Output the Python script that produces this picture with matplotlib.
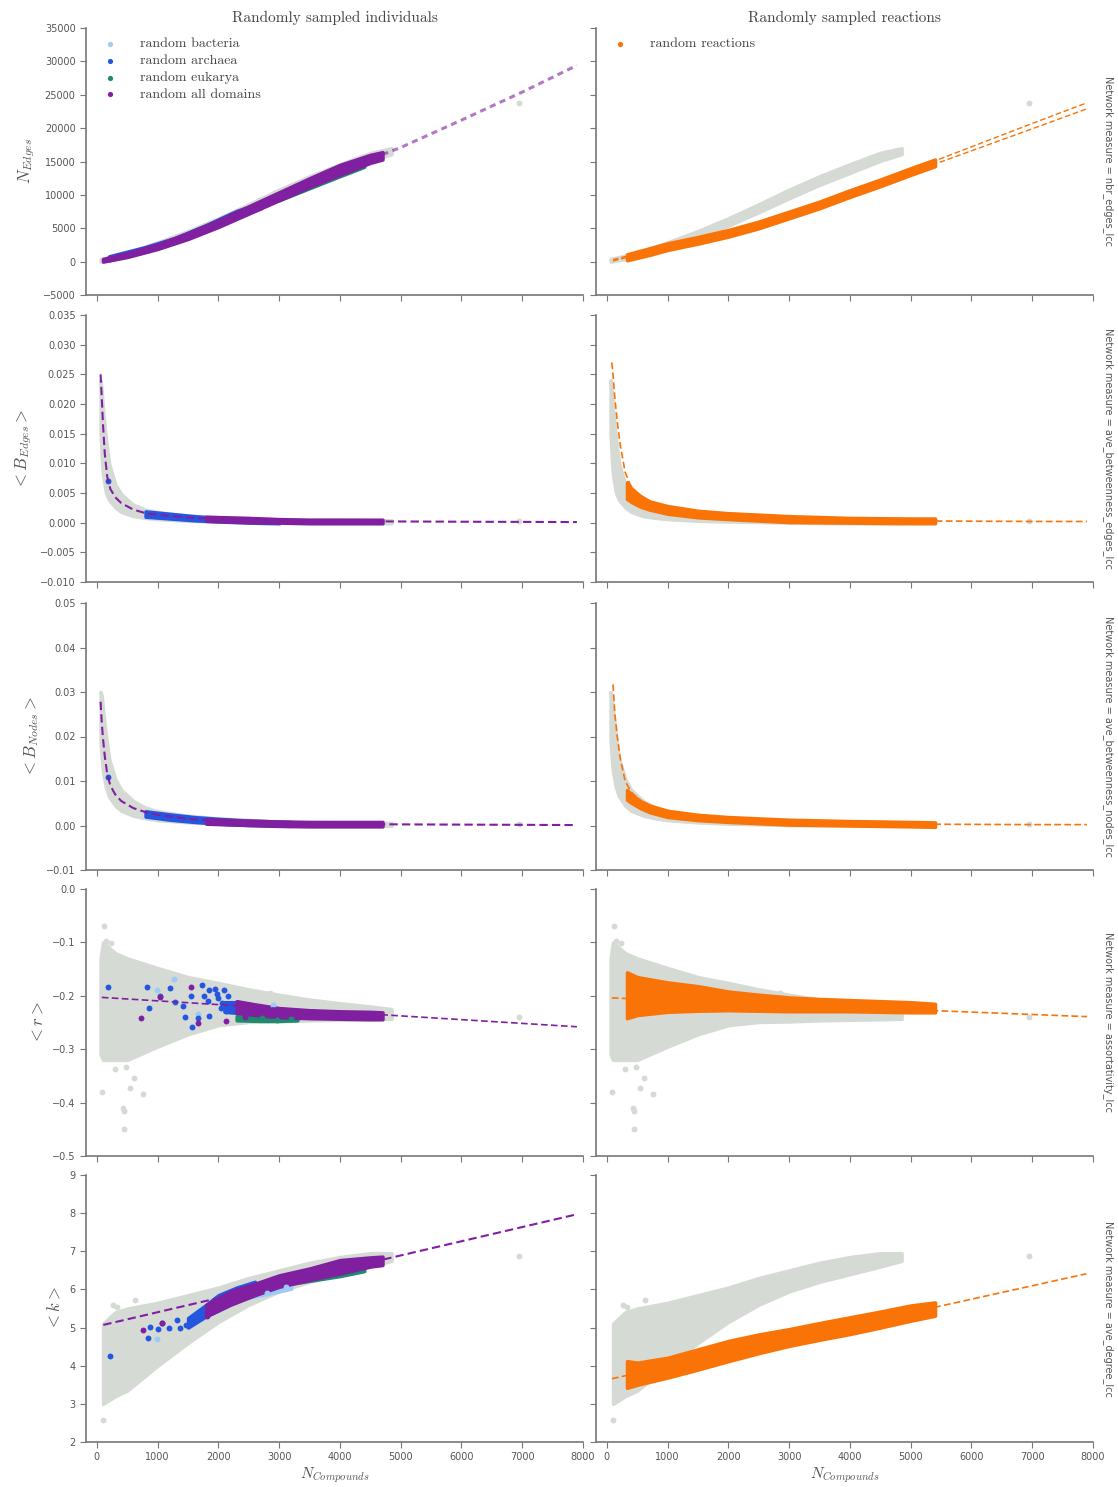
import matplotlib.pyplot as plt
from matplotlib.ticker import MultipleLocator

plt.rcParams['mathtext.fontset'] = 'cm'

# colours
grey = '#d5dad5'
c_bact = '#9ecbf5'
c_arch = '#2456e0'
c_euk = '#1e8a6e'
c_all = '#801f9f'
c_rxn = '#f97306'

# ---------- row 1 : number of edges ----------
grey_edges_x = [60, 500, 1000, 1500, 2000, 2500, 3000, 3500, 4000, 4500, 4850]
grey_edges_lo = [0, 700, 2000, 3500, 5400, 7400, 9500, 11500, 13300, 15100, 16100]
grey_edges_hi = [400, 1300, 2900, 4600, 6500, 8600, 10800, 12800, 14600, 16300, 17000]

all_edges_x = [100, 500, 1000, 1500, 2000, 2500, 3000, 3500, 4000, 4500, 4700]
all_edges_lo = [0, 700, 1900, 3400, 5200, 7200, 9200, 11200, 13000, 14800, 15300]
all_edges_hi = [400, 1300, 2600, 4300, 6200, 8300, 10400, 12500, 14500, 16000, 16400]
arch_edges_x = [200, 800, 1300, 1800, 2300, 2700]
arch_edges_lo = [200, 1500, 2900, 4700, 6700, 8000]
arch_edges_hi = [800, 2200, 3600, 5500, 7600, 8800]
euk_edges_x = [3000, 3500, 4000, 4400]
euk_edges_lo = [9200, 11000, 12800, 14200]
euk_edges_hi = [9700, 11600, 13400, 14700]

fit_all_edges_x = [100, 1000, 2000, 3000, 4000, 5000, 6000, 7000, 7900]
fit_all_edges = [100, 2200, 5700, 9600, 13600, 17100, 21200, 25400, 29400]

rxn_edges_x = [330, 700, 1000, 1500, 2000, 2500, 3000, 3500, 4000, 4500, 5000, 5400]
rxn_edges_lo = [200, 1000, 1750, 2700, 3750, 5000, 6500, 8000, 9700, 11300, 13000, 14300]
rxn_edges_hi = [1100, 2000, 2750, 3700, 4750, 6000, 7500, 9000, 10700, 12300, 14000, 15300]
fit_rxn_edges_x = [100, 1000, 2000, 3000, 4000, 5000, 6000, 7000, 7900]
fit_rxn_edges_lo = [100, 2150, 4200, 6900, 10100, 13300, 16600, 19900, 22900]
fit_rxn_edges_hi = [300, 2350, 4400, 7100, 10300, 13700, 17200, 20700, 23800]

# ---------- row 2 : edge betweenness ----------
grey_bedg_x = [60, 80, 100, 150, 200, 300, 400, 600, 800, 1000, 1500, 2000, 3000, 4000, 4850]
grey_bedg_lo = [0.015, 0.011, 0.008, 0.005, 0.0038, 0.0026, 0.0018, 0.0011, 0.0008, 0.0006,
                0.0003, 0.0002, 0.0, -0.0001, -0.0001]
grey_bedg_hi = [0.024, 0.022, 0.019, 0.014, 0.010, 0.0065, 0.0048, 0.0030, 0.0022, 0.0018,
                0.0012, 0.0009, 0.0006, 0.0005, 0.0004]

fit_all_bedg_x = [60, 80, 100, 130, 170, 220, 300, 400, 600, 800, 1000, 1500, 2000, 3000,
                  4000, 5000, 6000, 7000, 7900]
fit_all_bedg = [0.025, 0.021, 0.0165, 0.0115, 0.0077, 0.0057, 0.0043, 0.0033, 0.0022, 0.0016,
                0.0013, 0.0009, 0.0006, 0.00035, 0.00025, 0.0002, 0.00016, 0.00013, 0.0001]
all_bedg_x = [1800, 2500, 3000, 3500, 4000, 4700]
all_bedg_lo = [0.0003, 0.0001, 0.0, -0.0001, -0.0001, -0.0001]
all_bedg_hi = [0.0010, 0.0008, 0.0006, 0.0005, 0.0005, 0.0005]
arch_bedg_x = [800, 1200, 1600, 2000, 2500, 3000]
arch_bedg_lo = [0.0010, 0.0007, 0.0004, 0.0002, 0.0000, -0.0001]
arch_bedg_hi = [0.0019, 0.0015, 0.0011, 0.0008, 0.0006, 0.0004]

fit_rxn_bedg_x = [80, 100, 130, 170, 220, 300, 400, 600, 800, 1000, 1500, 2000, 3000, 4000,
                  5000, 6000, 7000, 7900]
fit_rxn_bedg = [0.027, 0.025, 0.021, 0.017, 0.013, 0.0085, 0.0060, 0.0036, 0.0026, 0.0021,
                0.0014, 0.0011, 0.0006, 0.0004, 0.0003, 0.00025, 0.0002, 0.0002]
rxn_bedg_x = [330, 400, 550, 700, 1000, 1500, 2000, 3000, 4000, 5000, 5400]
rxn_bedg_lo = [0.0040, 0.0035, 0.0027, 0.0022, 0.0015, 0.0009, 0.0006, 0.0001, 0.0, -0.0001, -0.0001]
rxn_bedg_hi = [0.0068, 0.0058, 0.0045, 0.0036, 0.0028, 0.0020, 0.0016, 0.0011, 0.0008, 0.0007, 0.0007]

# ---------- row 3 : node betweenness ----------
grey_bnod_x = [60, 80, 100, 150, 200, 300, 400, 600, 800, 1000, 1500, 2000, 3000, 4000, 4850]
grey_bnod_lo = [0.019, 0.015, 0.012, 0.0085, 0.0065, 0.0045, 0.0033, 0.0022, 0.0016, 0.0012,
                0.0007, 0.0004, 0.0001, 0.0, -0.0001]
grey_bnod_hi = [0.030, 0.029, 0.026, 0.020, 0.015, 0.0105, 0.0080, 0.0055, 0.0040, 0.0032,
                0.0022, 0.0016, 0.0009, 0.0007, 0.0006]

fit_all_bnod_x = [60, 80, 100, 130, 170, 220, 300, 400, 600, 800, 1000, 1500, 2000, 3000,
                  4000, 5000, 6000, 7000, 7900]
fit_all_bnod = [0.0278, 0.023, 0.0195, 0.0155, 0.0115, 0.0090, 0.0070, 0.0055, 0.0039, 0.0030,
                0.0024, 0.0015, 0.0010, 0.00055, 0.00035, 0.00025, 0.0002, 0.00015, 0.0001]
all_bnod_x = [1800, 2500, 3000, 3500, 4000, 4700]
all_bnod_lo = [0.0004, 0.0001, -0.0001, -0.0002, -0.0002, -0.0002]
all_bnod_hi = [0.0014, 0.0011, 0.0009, 0.0008, 0.0008, 0.0008]
arch_bnod_x = [800, 1200, 1600, 2000, 2500, 3200]
arch_bnod_lo = [0.0020, 0.0013, 0.0008, 0.0004, 0.0001, -0.0001]
arch_bnod_hi = [0.0032, 0.0025, 0.0019, 0.0015, 0.0011, 0.0008]

fit_rxn_bnod_x = [100, 130, 170, 220, 300, 400, 600, 800, 1000, 1500, 2000, 3000, 4000, 5000,
                  6000, 7000, 7900]
fit_rxn_bnod = [0.0317, 0.025, 0.020, 0.015, 0.0100, 0.0075, 0.0050, 0.0036, 0.0028, 0.0019,
                0.0014, 0.0008, 0.0005, 0.0003, 0.00025, 0.0002, 0.0002]
rxn_bnod_x = [330, 400, 550, 700, 1000, 1500, 2000, 3000, 4000, 5000, 5400]
rxn_bnod_lo = [0.0058, 0.0051, 0.0039, 0.0030, 0.0019, 0.0012, 0.0008, 0.0002, 0.0, -0.0002, -0.0003]
rxn_bnod_hi = [0.0080, 0.0070, 0.0055, 0.0045, 0.0033, 0.0024, 0.0019, 0.0013, 0.0010, 0.0008, 0.0007]

# ---------- row 4 : assortativity ----------
grey_r_x = [60, 100, 300, 500, 1000, 1500, 2000, 2500, 3000, 3500, 4000, 4500, 4850]
grey_r_lo = [-0.31, -0.32, -0.32, -0.32, -0.295, -0.272, -0.255, -0.249, -0.248, -0.246,
             -0.245, -0.244, -0.243]
grey_r_hi = [-0.13, -0.10, -0.12, -0.13, -0.148, -0.165, -0.176, -0.188, -0.198, -0.207,
             -0.214, -0.22, -0.225]
grey_r_pts_x = [112, 150, 230, 80, 298, 422, 453, 484, 547, 610, 764, 443, 2845, 6944]
grey_r_pts_y = [-0.069, -0.097, -0.102, -0.38, -0.337, -0.41, -0.416, -0.334, -0.372, -0.353,
                -0.384, -0.45, -0.194, -0.24]

fit_all_r_x = [80, 7900]
fit_all_r = [-0.203, -0.258]
all_r_x = [2300, 2600, 3000, 3500, 4000, 4500, 4700]
all_r_lo = [-0.232, -0.236, -0.240, -0.242, -0.243, -0.244, -0.244]
all_r_hi = [-0.210, -0.216, -0.223, -0.227, -0.229, -0.230, -0.231]
arch_r_x = [2100, 2300, 2500, 2700]
arch_r_lo = [-0.230, -0.232, -0.232, -0.230]
arch_r_hi = [-0.212, -0.212, -0.215, -0.220]
euk_r_x = [2300, 2700, 3000, 3300]
euk_r_lo = [-0.246, -0.247, -0.247, -0.246]
euk_r_hi = [-0.238, -0.239, -0.240, -0.240]
arch_r_pts_x = [186, 826, 857, 1043, 1199, 1292, 1416, 1447, 1571, 1540, 1665, 1727, 1758,
                1851, 1944, 1975, 2099, 2161, 1820, 2037, 2130, 1851, 1990, 2060]
arch_r_pts_y = [-0.184, -0.183, -0.223, -0.200, -0.186, -0.2125, -0.219, -0.239, -0.259, -0.200,
                -0.241, -0.179, -0.200, -0.190, -0.187, -0.197, -0.190, -0.200, -0.209, -0.222,
                -0.228, -0.237, -0.205, -0.214]
bact_r_pts_x = [1261, 981, 1665, 2900]
bact_r_pts_y = [-0.169, -0.190, -0.234, -0.218]
all_r_pts_x = [733, 1540, 1665, 2130, 2441, 1043]
all_r_pts_y = [-0.242, -0.184, -0.250, -0.248, -0.240, -0.203]
euk_r_pts_x = [2348, 2720, 2969, 3186]
euk_r_pts_y = [-0.241, -0.242, -0.246, -0.244]

fit_rxn_r_x = [80, 7900]
fit_rxn_r = [-0.204, -0.239]
rxn_r_x = [330, 500, 1000, 1500, 2000, 2500, 3000, 3500, 4000, 4500, 5000, 5400]
rxn_r_lo = [-0.242, -0.236, -0.230, -0.228, -0.227, -0.228, -0.229, -0.229, -0.229, -0.230,
            -0.231, -0.231]
rxn_r_hi = [-0.156, -0.165, -0.175, -0.182, -0.192, -0.198, -0.203, -0.206, -0.208, -0.210,
            -0.212, -0.215]

# ---------- row 5 : average degree ----------
grey_k_x = [100, 300, 500, 1000, 1500, 2000, 2500, 3000, 3500, 4000, 4500, 4850]
grey_k_lo = [3.0, 3.2, 3.35, 4.0, 4.6, 5.15, 5.6, 5.95, 6.2, 6.4, 6.6, 6.75]
grey_k_hi = [5.1, 5.4, 5.5, 5.65, 5.85, 6.05, 6.3, 6.5, 6.7, 6.85, 6.95, 6.95]
grey_k_pts_x = [100, 260, 330, 632, 6947]
grey_k_pts_y = [2.58, 5.6, 5.55, 5.73, 6.88]

fit_all_k_x = [105, 7900]
fit_all_k = [5.07, 7.97]
all_k_x = [1800, 2200, 2600, 3000, 3500, 4000, 4500, 4700]
all_k_lo = [5.3, 5.6, 5.85, 6.07, 6.25, 6.42, 6.6, 6.64]
all_k_hi = [5.6, 5.95, 6.15, 6.37, 6.55, 6.77, 6.84, 6.86]
arch_k_x = [1500, 1800, 2000, 2300, 2600]
arch_k_lo = [5.0, 5.3, 5.45, 5.7, 5.9]
arch_k_hi = [5.25, 5.6, 5.85, 6.05, 6.2]
bact_k_x = [2400, 2800, 3200]
bact_k_lo = [5.75, 5.88, 6.02]
bact_k_hi = [5.9, 6.02, 6.15]
euk_k_x = [3200, 3600, 4000, 4400]
euk_k_lo = [6.15, 6.25, 6.35, 6.48]
euk_k_hi = [6.3, 6.4, 6.5, 6.6]
arch_k_pts_x = [211, 848, 879, 1003, 1065, 1189, 1313, 1375, 1467]
arch_k_pts_y = [4.25, 4.73, 5.02, 4.95, 5.12, 4.99, 5.2, 4.99, 5.07]
bact_k_pts_x = [990, 2800, 3108]
bact_k_pts_y = [4.7, 5.9, 6.07]
all_k_pts_x = [755, 1065, 1808]
all_k_pts_y = [4.94, 5.13, 5.3]

fit_rxn_k_x = [83, 7890]
fit_rxn_k = [3.66, 6.41]
rxn_k_x = [330, 500, 1000, 1500, 2000, 2500, 3000, 3500, 4000, 4500, 5000, 5400]
rxn_k_lo = [3.42, 3.5, 3.69, 3.9, 4.12, 4.33, 4.52, 4.68, 4.83, 5.0, 5.18, 5.31]
rxn_k_hi = [4.12, 4.08, 4.21, 4.43, 4.65, 4.82, 4.96, 5.12, 5.27, 5.42, 5.58, 5.66]

outlier_x = 6950
outlier_y = [23800, 0.0002, 0.0003]

ylims = [(-5000, 35000), (-0.010, 0.035), (-0.01, 0.05), (-0.5, 0.0), (2, 9)]
ysteps = [5000, 0.005, 0.01, 0.1, 1]
ylabels = [r'$N_{Edges}$', r'$<B_{Edges}>$', r'$<B_{Nodes}>$', r'$<r>$', r'$<k>$']
measures = ['nbr_edges_lcc', 'ave_betweenness_edges_lcc', 'ave_betweenness_nodes_lcc',
            'assortativity_lcc', 'ave_degree_lcc']
col_titles = ['Randomly sampled individuals', 'Randomly sampled reactions']


def band(ax, x, lo, hi, color, z):
    ax.fill_between(x, lo, hi, color=color, edgecolor=color, lw=2.5, zorder=z)


def dots(ax, x, y, color, z=3):
    ax.scatter(x, y, s=18, color=color, lw=0, zorder=z)


def fit(ax, x, y, color, lw=1.2):
    ax.plot(x, y, color=color, lw=lw, ls=(0, (4, 2)), zorder=6)


W, H = 1118, 1487
fig = plt.figure(figsize=(W / 100, H / 100), dpi=100)
row_tops = [28, 315, 603, 889, 1175]
axh = 267
col_left = [86, 596]
axw = 497

axes = []
for r in range(5):
    row = []
    for c in range(2):
        ax = fig.add_axes([col_left[c] / W, 1 - (row_tops[r] + axh) / H, axw / W, axh / H])
        ax.set_xlim(-180, 8000)
        ax.set_ylim(*ylims[r])
        ax.set_xticks(range(0, 8001, 1000))
        ax.yaxis.set_major_locator(MultipleLocator(ysteps[r]))
        for s in ['top', 'right']:
            ax.spines[s].set_visible(False)
        for s in ['left', 'bottom']:
            ax.spines[s].set_color('#777777')
            ax.spines[s].set_linewidth(1.2)
        ax.tick_params(direction='out', length=4, color='#777777', labelsize=7,
                       labelcolor='#555555')
        if r < 4:
            ax.tick_params(labelbottom=False)
        if c == 1:
            ax.tick_params(labelleft=False)
        row.append(ax)
    axes.append(row)

# grey background cloud in both columns
for c in range(2):
    band(axes[0][c], grey_edges_x, grey_edges_lo, grey_edges_hi, grey, 1)
    band(axes[1][c], grey_bedg_x, grey_bedg_lo, grey_bedg_hi, grey, 1)
    band(axes[2][c], grey_bnod_x, grey_bnod_lo, grey_bnod_hi, grey, 1)
    band(axes[3][c], grey_r_x, grey_r_lo, grey_r_hi, grey, 1)
    dots(axes[3][c], grey_r_pts_x, grey_r_pts_y, grey, 1)
    band(axes[4][c], grey_k_x, grey_k_lo, grey_k_hi, grey, 1)
    dots(axes[4][c], grey_k_pts_x, grey_k_pts_y, grey, 1)
    for r in range(3):
        dots(axes[r][c], [outlier_x], [outlier_y[r]], grey, 1)

# left column: individuals
ax = axes[0][0]
band(ax, arch_edges_x, arch_edges_lo, arch_edges_hi, c_arch, 2)
band(ax, euk_edges_x, euk_edges_lo, euk_edges_hi, c_euk, 2)
band(ax, all_edges_x, all_edges_lo, all_edges_hi, c_all, 3)
ax.plot(fit_all_edges_x, fit_all_edges, color=c_all, lw=2.2, ls=(0, (2, 1.5)), alpha=0.6,
        zorder=6)

ax = axes[1][0]
band(ax, arch_bedg_x, arch_bedg_lo, arch_bedg_hi, c_arch, 2)
band(ax, all_bedg_x, all_bedg_lo, all_bedg_hi, c_all, 3)
dots(ax, [174], [0.0071], c_arch)
fit(ax, fit_all_bedg_x, fit_all_bedg, c_all, 1.5)

ax = axes[2][0]
band(ax, arch_bnod_x, arch_bnod_lo, arch_bnod_hi, c_arch, 2)
band(ax, all_bnod_x, all_bnod_lo, all_bnod_hi, c_all, 3)
dots(ax, [178], [0.0108], c_arch)
fit(ax, fit_all_bnod_x, fit_all_bnod, c_all, 1.5)

ax = axes[3][0]
band(ax, euk_r_x, euk_r_lo, euk_r_hi, c_euk, 2)
band(ax, arch_r_x, arch_r_lo, arch_r_hi, c_arch, 2)
band(ax, all_r_x, all_r_lo, all_r_hi, c_all, 3)
dots(ax, euk_r_pts_x, euk_r_pts_y, c_euk)
dots(ax, bact_r_pts_x, bact_r_pts_y, c_bact)
dots(ax, arch_r_pts_x, arch_r_pts_y, c_arch)
dots(ax, all_r_pts_x, all_r_pts_y, c_all)
fit(ax, fit_all_r_x, fit_all_r, c_all)

ax = axes[4][0]
band(ax, euk_k_x, euk_k_lo, euk_k_hi, c_euk, 2)
band(ax, bact_k_x, bact_k_lo, bact_k_hi, c_bact, 2)
band(ax, arch_k_x, arch_k_lo, arch_k_hi, c_arch, 2)
band(ax, all_k_x, all_k_lo, all_k_hi, c_all, 3)
dots(ax, arch_k_pts_x, arch_k_pts_y, c_arch)
dots(ax, bact_k_pts_x, bact_k_pts_y, c_bact)
dots(ax, all_k_pts_x, all_k_pts_y, c_all)
fit(ax, fit_all_k_x, fit_all_k, c_all, 1.5)

# right column: reactions
ax = axes[0][1]
band(ax, rxn_edges_x, rxn_edges_lo, rxn_edges_hi, c_rxn, 3)
fit(ax, fit_rxn_edges_x, fit_rxn_edges_lo, c_rxn, 1.0)
fit(ax, fit_rxn_edges_x, fit_rxn_edges_hi, c_rxn, 1.0)

ax = axes[1][1]
band(ax, rxn_bedg_x, rxn_bedg_lo, rxn_bedg_hi, c_rxn, 3)
fit(ax, fit_rxn_bedg_x, fit_rxn_bedg, c_rxn)

ax = axes[2][1]
band(ax, rxn_bnod_x, rxn_bnod_lo, rxn_bnod_hi, c_rxn, 3)
fit(ax, fit_rxn_bnod_x, fit_rxn_bnod, c_rxn)

ax = axes[3][1]
band(ax, rxn_r_x, rxn_r_lo, rxn_r_hi, c_rxn, 3)
fit(ax, fit_rxn_r_x, fit_rxn_r, c_rxn)

ax = axes[4][1]
band(ax, rxn_k_x, rxn_k_lo, rxn_k_hi, c_rxn, 3)
fit(ax, fit_rxn_k_x, fit_rxn_k, c_rxn)

# labels and titles
for r in range(5):
    axes[r][0].set_ylabel(ylabels[r], fontsize=12, color='#555555')
    fig.text(1108 / W, 1 - (row_tops[r] + axh / 2) / H, 'Network measure = ' + measures[r],
             rotation=-90, ha='center', va='center', fontsize=7, color='#555555')
for c in range(2):
    axes[0][c].set_title(col_titles[c], family='cmr10', fontsize=11, color='#444444', pad=4)
    axes[4][c].set_xlabel(r'$N_{Compounds}$', fontsize=11, color='#555555', labelpad=2)

# legends
leg_kw = dict(loc='upper left', frameon=False, handletextpad=1.2,
              labelspacing=0.3, borderaxespad=0.3, prop={'family': 'cmr10', 'size': 10})
for lab, col in [('random bacteria', c_bact), ('random archaea', c_arch),
                 ('random eukarya', c_euk), ('random all domains', c_all)]:
    axes[0][0].scatter([], [], s=14, color=col, lw=0, label=lab)
leg = axes[0][0].legend(**leg_kw)
for t in leg.get_texts():
    t.set_color('#444444')
axes[0][1].scatter([], [], s=14, color=c_rxn, lw=0, label='random reactions')
leg = axes[0][1].legend(**leg_kw)
for t in leg.get_texts():
    t.set_color('#444444')

plt.savefig('out.png', dpi=100)
